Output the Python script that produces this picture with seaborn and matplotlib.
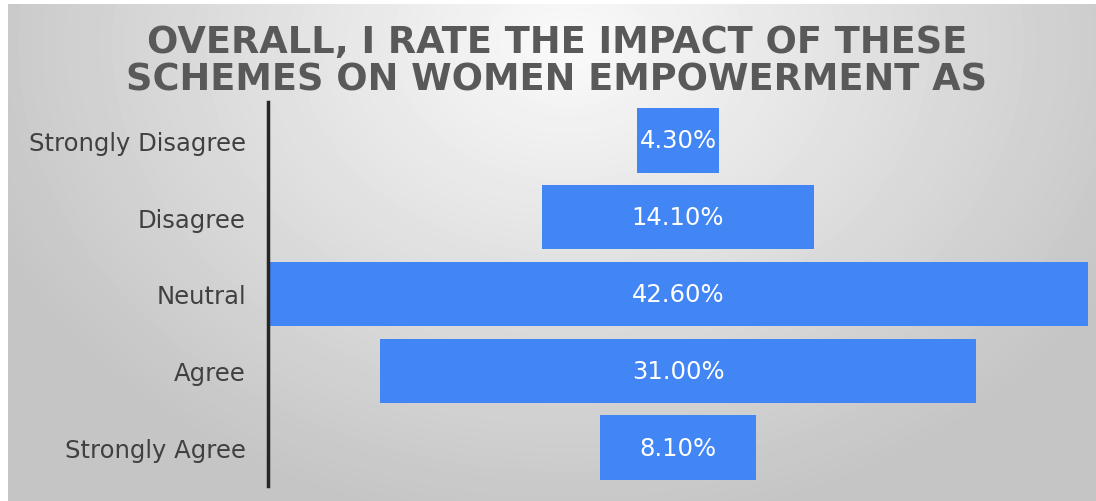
import numpy as np
import pandas as pd
import matplotlib.pyplot as plt
import seaborn as sns

# data
categories = ["Strongly Disagree", "Disagree", "Neutral", "Agree", "Strongly Agree"]
percent = [4.3, 14.1, 42.6, 31.0, 8.1]
title = "OVERALL, I RATE THE IMPACT OF THESE\nSCHEMES ON WOMEN EMPOWERMENT AS"

df = pd.DataFrame({"category": categories, "percent": percent})

sns.set_theme(style="white")
plt.rcParams["font.family"] = ["DejaVu Sans"]

fig = plt.figure(figsize=(10.96, 5.02), dpi=100)
fig.patch.set_facecolor("white")

# radial grey gradient background (leaves a thin white margin top/left)
bg = fig.add_axes([8 / 1096, 0, 1 - 8 / 1096, 1 - 5 / 502], zorder=-10)
yy, xx = np.mgrid[0:497, 0:1088]
r = np.sqrt(((xx - 560) / 900) ** 2 + ((yy - 40) / 700) ** 2)
shade = np.clip(0.98 - 0.30 * r, 0.77, 0.98)
bg.imshow(shade, cmap="gray", vmin=0, vmax=1, aspect="auto", interpolation="bilinear")
bg.axis("off")

ax = fig.add_axes([268 / 1096, 15 / 502, 820 / 1096, 384 / 502])
ax.patch.set_alpha(0)

sns.barplot(data=df, x="percent", y="category", color="#4285F4", saturation=1,
            width=0.84, ax=ax)

# centre every bar around zero to get the funnel shape
for patch, val in zip(ax.patches, percent):
    patch.set_x(-val / 2)
    patch.set_edgecolor("none")
    ax.text(0, patch.get_y() + patch.get_height() / 2, f"{val:.2f}%",
            ha="center", va="center", color="white", fontsize=17.5)

half = max(percent) / 2
ax.set_xlim(-half, half)
ax.set_ylim(4.5, -0.5)
ax.set_xticks([])
ax.set_xlabel("")
ax.set_ylabel("")
ax.tick_params(axis="y", length=0, pad=16, labelsize=17.5, labelcolor="#404040")

for side in ["top", "right", "bottom"]:
    ax.spines[side].set_visible(False)
ax.spines["left"].set_color("#262626")
ax.spines["left"].set_linewidth(2.5)

fig.text(0.508, 0.878, title, ha="center", va="center", fontsize=26.5,
         fontweight="bold", color="#595959", linespacing=1.05)

plt.savefig("out.png", dpi=100)
